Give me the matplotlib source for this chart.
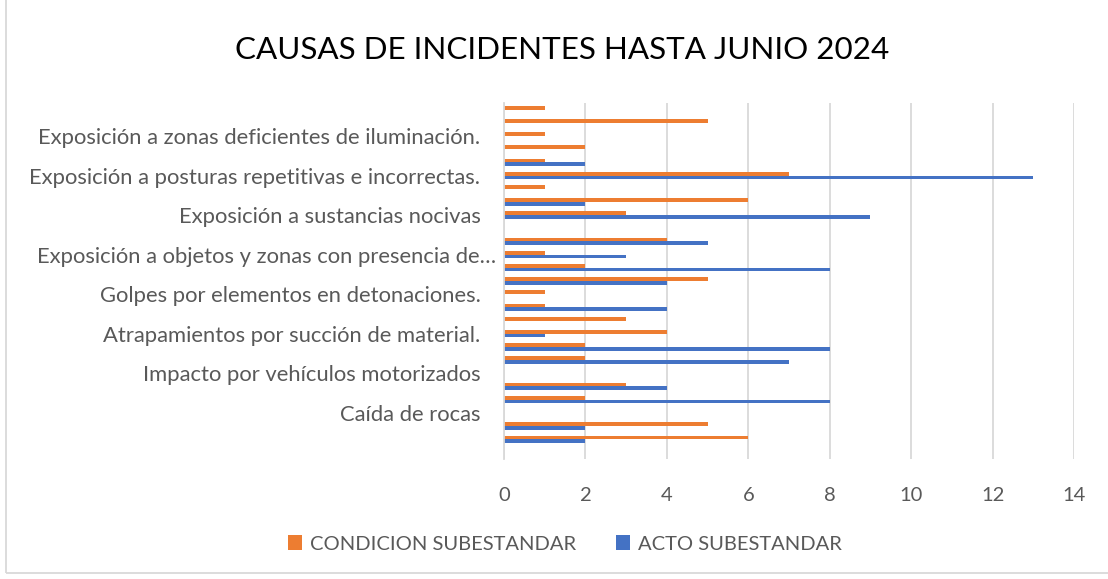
import matplotlib.pyplot as plt
import matplotlib.patches as patches
import matplotlib.transforms as mtransforms
import numpy as np

# categorias de abajo hacia arriba (solo se ven algunas etiquetas en el original)
etiquetas = ["", "", "", "Caída de rocas", "", "", "Impacto por vehículos motorizados", "", "",
             "Atrapamientos por succión de material.", "", "", "Golpes por elementos en detonaciones.", "", "",
             "Exposición a objetos y zonas con presencia de…", "", "", "Exposición a sustancias nocivas", "", "",
             "Exposición a posturas repetitivas e incorrectas.", "", "",
             "Exposición a zonas deficientes de iluminación.", "", ""]
condicion = [0, 6, 5, 0, 2, 3, 0, 2, 2, 4, 3, 1, 1, 5, 2, 1, 4, 0, 3, 6, 1, 7, 1, 2, 1, 5, 1]
acto = [0, 2, 2, 0, 8, 4, 0, 7, 8, 1, 0, 4, 0, 4, 8, 3, 5, 0, 9, 2, 0, 13, 2, 0, 0, 0, 0]

naranja = "#ED7D31"
azul = "#4472C4"
gris = "#595959"
rejilla = "#D9D9D9"

plt.rcParams['font.family'] = ['Lato', 'DejaVu Sans']

fig = plt.figure(figsize=(11.08, 5.79), dpi=100)
ax = fig.add_axes([0.4549, 0.2073, 0.5144, 0.6148])

y = np.arange(len(etiquetas))
h = 0.28
ax.barh(y + h / 2, condicion, height=h, color=naranja, label="CONDICION SUBESTANDAR")
ax.barh(y - h / 2, acto, height=h, color=azul, label="ACTO SUBESTANDAR")

ax.set_xlim(0, 14)
ax.set_ylim(-0.5, len(etiquetas) - 0.5)
ax.set_xticks(range(0, 15, 2))
ax.set_yticks(y)
ax.set_yticklabels(etiquetas)
ax.tick_params(axis='both', length=0, labelsize=14.5, colors=gris)
ax.tick_params(axis='y', labelsize=15.8, pad=17)
ax.tick_params(axis='x', pad=20)
ax.xaxis.grid(True, color=rejilla, linewidth=1.3)
ax.set_axisbelow(True)
for s in ["top", "right", "bottom"]:
    ax.spines[s].set_visible(False)
ax.spines["left"].set_color(rejilla)
ax.spines["left"].set_linewidth(1.3)

# la etiqueta recortada se sale un poco hacia la derecha, como en excel
lbl = ax.get_yticklabels()[etiquetas.index("Exposición a objetos y zonas con presencia de…")]
lbl.set_transform(lbl.get_transform() + mtransforms.ScaledTranslation(0.16, 0, fig.dpi_scale_trans))

fig.text(0.507, 0.913, "CAUSAS DE INCIDENTES HASTA JUNIO 2024", ha="center", va="center",
         fontsize=22.6, color="black")

fig.legend(loc="center", bbox_to_anchor=(0.51, 0.0605), ncol=2, frameon=False,
           fontsize=14.5, labelcolor=gris, handlelength=0.7, handleheight=0.7,
           handletextpad=0.4, columnspacing=2.0)

fig.patches.append(patches.Rectangle((6 / 1108, 6 / 579), 1110 / 1108, 580 / 579,
                                     transform=fig.transFigure, fill=False,
                                     edgecolor=rejilla, linewidth=1.3, clip_on=False))

fig.savefig("out.png", dpi=100)
